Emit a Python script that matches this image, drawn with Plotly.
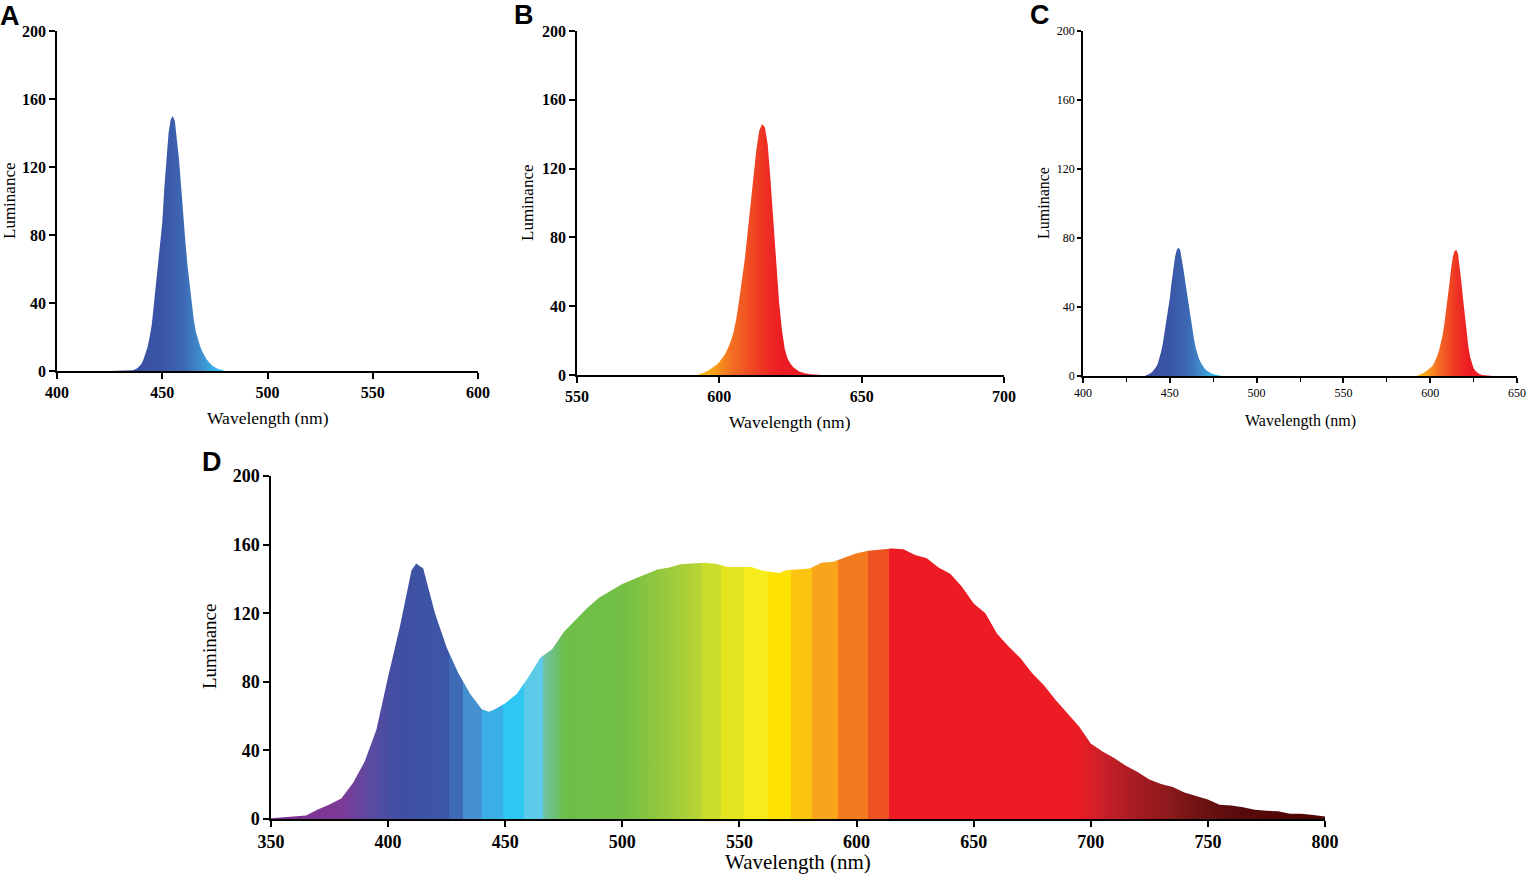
import plotly.graph_objects as go

# panel A: blue LED
a_nm = [425, 432, 436, 438, 440, 441, 442, 443, 444, 445, 446, 447, 448, 449, 450,
        451, 452, 453, 454, 455, 456, 457, 458, 459, 460, 461, 462, 463, 464, 465,
        466, 467, 468, 469, 470, 471, 472, 473, 474, 475, 476, 478, 480]
a_lum = [0, 0.3, 0.5, 1.5, 4, 6.5, 10, 14, 20, 27, 39, 52, 63, 74, 87,
         108, 125, 140, 148, 150, 147, 137, 124, 108, 90, 76, 62, 50, 38, 30,
         23, 18, 14.5, 11.5, 9, 7, 5.5, 4, 3, 2.2, 1.5, 0.7, 0]

# panel B: red LED
b_nm = [592, 594, 596, 598, 599, 600, 601, 602, 603, 604, 605, 606, 607, 608, 609,
        610, 611, 612, 613, 614, 615, 616, 617, 618, 619, 620, 621, 622, 623, 624,
        625, 626, 627, 628, 630, 632, 636]
b_lum = [0, 1, 2.5, 4.5, 6, 7.5, 9.5, 12, 15.5, 19.5, 25, 33, 44, 55, 68,
         84, 100, 116, 131, 142, 146, 144, 134, 113, 90, 63, 42, 26, 15, 9.5,
         6.5, 4.5, 3, 2, 1, 0.5, 0]

# panel C: blue + red LED
c_blue_nm = [436, 438, 440, 441, 442, 443, 444, 445, 446, 447, 448, 449, 450, 451, 452,
             453, 454, 455, 456, 457, 458, 459, 460, 461, 462, 463, 464, 465, 466, 467,
             468, 469, 470, 471, 472, 474, 476, 478, 480]
c_blue_lum = [0.3, 1, 2.5, 3.5, 5, 7, 10, 14, 19, 25, 31, 38, 45, 54, 62,
              69, 73, 74.5, 73, 68, 61, 54, 47, 41, 34, 27, 21, 16, 12, 9.5,
              7.5, 5.8, 4.4, 3.4, 2.6, 1.5, 0.8, 0.4, 0]
c_red_nm = [592, 594, 596, 598, 600, 601, 602, 603, 604, 605, 606, 607, 608, 609, 610,
            611, 612, 613, 614, 615, 616, 617, 618, 619, 620, 621, 622, 623, 624, 625,
            626, 627, 628, 630, 632, 636]
c_red_lum = [0, 0.8, 1.8, 3, 4.5, 5.5, 7, 9, 11.5, 14.5, 18.5, 23, 29, 36, 44,
             53, 62, 69, 72.5, 73, 71, 64, 54, 44, 34, 25, 17, 11, 7, 4.5,
             3, 2, 1.3, 0.6, 0.3, 0]

# panel D: full spectrum
d_nm = [350, 355, 360, 365, 370, 375, 380, 385, 390, 395, 400, 405, 410, 412, 415,
        420, 425, 430, 435, 440, 443, 445, 450, 455, 460, 465, 470, 475, 480, 485,
        490, 495, 500, 505, 510, 515, 520, 525, 530, 535, 540, 545, 550, 555, 560,
        567, 570, 575, 580, 585, 590, 595, 600, 605, 610, 615, 620, 625, 630, 635,
        640, 645, 650, 655, 660, 665, 670, 675, 680, 685, 690, 695, 700, 705, 710,
        715, 720, 725, 730, 735, 740, 745, 750, 755, 760, 765, 770, 775, 780, 785,
        790, 795, 800]
d_lum = [0.5, 1, 1.5, 2, 5.5, 8.5, 12, 21, 33.5, 52, 83, 112, 145, 149, 146,
         120, 100, 85, 73, 64, 62.5, 63.5, 67.5, 73, 83, 94, 99, 109, 116, 123,
         129, 133, 137, 140, 142.6, 145.5, 146.7, 148.6, 149, 149.4, 148.8, 147, 147, 147, 144.7,
         143.5, 145, 145.7, 146, 149.4, 150, 152.5, 155, 156.4, 157, 157.7, 157.3, 154, 152, 146.7,
         143, 135.4, 125.7, 120, 108, 100.5, 93.7, 85, 78, 69.4, 61.7, 54, 44, 39.4, 35.5,
         31, 27.4, 23, 20.4, 18.6, 15.5, 13.2, 11.3, 8.3, 7.8, 6.8, 5.4, 4.8, 4.5, 3.1,
         3.1, 2.3, 1.5]

# colour stops (wavelength -> colour) for the fills
blue_stop_nm = [430, 450, 460, 468, 474, 480]
blue_stop_hex = ['#3a4a9f', '#3a55a6', '#3c68b3', '#3f8bcb', '#38aee5', '#2ec6f3']
red_stop_nm = [592, 598, 604, 610, 616, 622, 636]
red_stop_hex = ['#fdc010', '#f9a21b', '#f37021', '#f05023', '#ed3024', '#ed1c24', '#ed1c24']
d_stop_nm = [350, 380, 392, 404, 426, 426, 432, 432, 440, 440, 449, 449, 458, 458, 466,
             466, 471, 475, 500, 513, 527, 534, 534, 542, 542, 552, 552, 562, 562, 572,
             572, 581, 581, 592, 592, 605, 605, 614, 614, 694, 705, 720, 734, 748, 762, 800]
d_stop_hex = ['#7a2a8c', '#7d3a97', '#5d4aa1', '#3f4fa2', '#3d56a7', '#3e6bb4', '#3e6bb4',
              '#4590cf', '#4590cf', '#3aafe5', '#3aafe5', '#2ec6f3', '#2ec6f3', '#5bcbe9',
              '#5bcbe9', '#6ec4a6', '#6dc07a', '#6dbe4a', '#72bf44', '#8cc63f', '#aacf38',
              '#bcd634', '#cbdc2c', '#cbdc2c', '#e4e420', '#e4e420', '#f6ec1c', '#f6ec1c',
              '#fde100', '#fde100', '#fdc511', '#fdc511', '#f9a51b', '#f9a51b', '#f47a20',
              '#f47a20', '#ef5223', '#ef5223', '#ed1c24', '#ed1c24', '#ca202a', '#a61c22',
              '#8b191c', '#6b1212', '#590b0b', '#4a0505']

W, H = 1527, 875
SERIF = 'Liberation Serif, Times New Roman, serif'


def px(x, y):
    # pixel position -> paper coords
    return x / W, 1 - y / H


def gradient(stop_nm, stop_hex):
    lo, hi = stop_nm[0], stop_nm[-1]
    scale = [[(n - lo) / (hi - lo), c] for n, c in zip(stop_nm, stop_hex)]
    return dict(type='horizontal', start=lo, stop=hi, colorscale=scale)


def spectrum(x, y, stops, axis):
    return go.Scatter(x=x, y=y, mode='lines', line=dict(width=0), fill='tozeroy',
                      fillcolor=stops[1][len(stops[1]) // 2],
                      fillgradient=gradient(*stops), xaxis='x' + axis, yaxis='y' + axis,
                      hoverinfo='x+y', showlegend=False)


blue = (blue_stop_nm, blue_stop_hex)
red = (red_stop_nm, red_stop_hex)

fig = go.Figure()
fig.add_trace(spectrum(a_nm, a_lum, blue, ''))
fig.add_trace(spectrum(b_nm, b_lum, red, '2'))
fig.add_trace(spectrum(c_blue_nm, c_blue_lum, blue, '3'))
fig.add_trace(spectrum(c_red_nm, c_red_lum, red, '3'))
fig.add_trace(spectrum(d_nm, d_lum, (d_stop_nm, d_stop_hex), '4'))


def axis(domain, rng, dtick, size, bold=True, anchor=None, minor=None):
    a = dict(domain=domain, range=rng, dtick=dtick, tick0=rng[0], showgrid=False,
             zeroline=False, showline=True, linecolor='black', linewidth=1.5,
             ticks='outside', ticklen=6, tickwidth=1.5, tickcolor='black',
             tickfont=dict(family=SERIF, size=size, color='black',
                           weight='bold' if bold else 'normal'),
             anchor=anchor, fixedrange=True, automargin=False)
    if minor:
        a['minor'] = dict(dtick=minor, ticks='outside', ticklen=4, tickwidth=1,
                          tickcolor='black')
    return a


layout = dict(
    width=W, height=H, margin=dict(l=0, r=0, t=0, b=0, autoexpand=False),
    paper_bgcolor='white', plot_bgcolor='white',
    xaxis=axis([57 / W, 478 / W], [400, 600], 50, 16, anchor='y'),
    yaxis=axis([1 - 371 / H, 1 - 31 / H], [0, 200], 40, 16, anchor='x'),
    xaxis2=axis([577 / W, 1004 / W], [550, 700], 50, 16, anchor='y2'),
    yaxis2=axis([1 - 375 / H, 1 - 31 / H], [0, 200], 40, 16, anchor='x2'),
    xaxis3=axis([1083 / W, 1517 / W], [400, 650], 50, 12, bold=False, anchor='y3', minor=25),
    yaxis3=axis([1 - 376 / H, 1 - 31 / H], [0, 200], 40, 12, bold=False, anchor='x3'),
    xaxis4=axis([271 / W, 1325 / W], [350, 800], 50, 18, anchor='y4'),
    yaxis4=axis([1 - 819 / H, 1 - 476 / H], [0, 200], 40, 18, anchor='x4'),
)
layout['yaxis3']['ticklen'] = 4
layout['xaxis3']['ticklen'] = 5

annotations = []
for letter, x, y in [('A', 10, 16), ('B', 524, 15), ('C', 1040, 15), ('D', 212, 462)]:
    ax, ay = px(x, y)
    annotations.append(dict(text=letter, x=ax, y=ay, xref='paper', yref='paper',
                            showarrow=False, xanchor='center', yanchor='middle',
                            font=dict(family='Liberation Sans, Arial', size=27,
                                      color='black', weight='bold')))
for x, y, size in [(9, 201, 17), (527, 203, 17), (1043, 203, 16), (209, 647, 19)]:
    ax, ay = px(x, y)
    annotations.append(dict(text='Luminance', x=ax, y=ay, xref='paper', yref='paper',
                            showarrow=False, textangle=-90, xanchor='center',
                            yanchor='middle',
                            font=dict(family=SERIF, size=size, color='black')))
for x, y, size in [(268, 418, 17.5), (790, 422, 17.5), (1300, 421, 16), (798, 862, 21)]:
    ax, ay = px(x, y)
    annotations.append(dict(text='Wavelength (nm)', x=ax, y=ay, xref='paper',
                            yref='paper', showarrow=False, xanchor='center',
                            yanchor='middle',
                            font=dict(family=SERIF, size=size, color='black')))
layout['annotations'] = annotations

fig.update_layout(**layout)
# drop the browser's default 8px body margin so the figure fills the window
fig.write_html("out.html", config={'displayModeBar': False},
               post_script="document.body.style.margin = '0';")
